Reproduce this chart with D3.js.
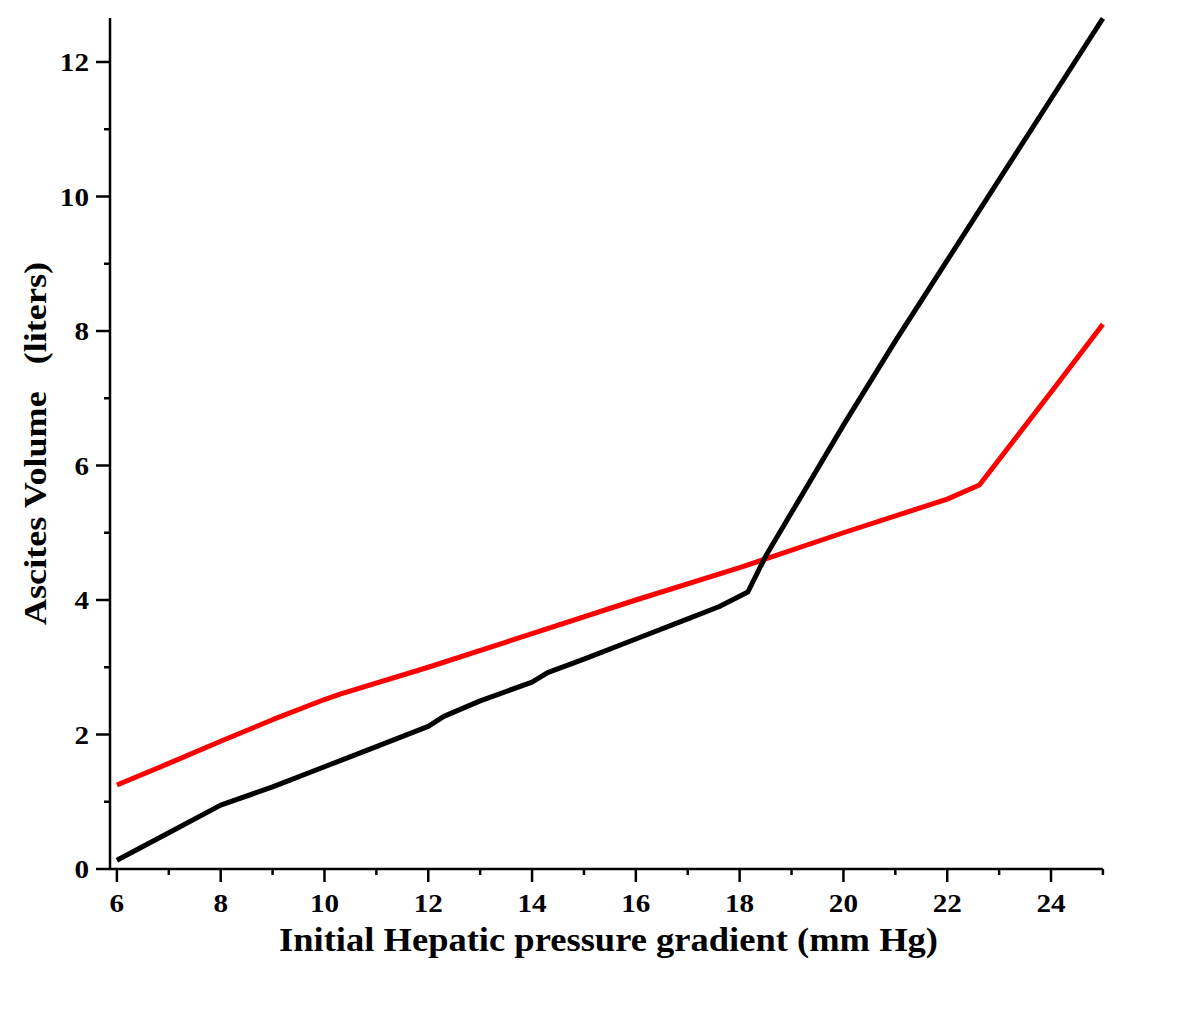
<!DOCTYPE html>
<html><head><meta charset="utf-8">
<script src="https://cdn.jsdelivr.net/npm/d3@7"></script>
<style>body{margin:0;background:#fff}svg{display:block}</style>
</head><body>
<script>
const blackX = [6, 7, 8, 9, 10, 11, 12, 12.3, 13, 14, 14.3, 15, 16, 17, 17.6, 18.16, 18.5, 19, 20, 21, 22, 23, 24, 25];
const blackY = [0.13, 0.54, 0.95, 1.22, 1.52, 1.82, 2.12, 2.27, 2.5, 2.78, 2.92, 3.12, 3.42, 3.72, 3.9, 4.12, 4.65, 5.3, 6.6, 7.85, 9.05, 10.25, 11.45, 12.65];
const redX = [6, 7, 8, 9, 10, 10.3, 12, 14, 16, 18, 20, 22, 22.62, 23, 24, 25];
const redY = [1.25, 1.57, 1.9, 2.22, 2.52, 2.6, 3.0, 3.5, 4.0, 4.48, 5.0, 5.5, 5.71, 6.09, 7.09, 8.1];
const xTicks = [6, 8, 10, 12, 14, 16, 18, 20, 22, 24];
const xMinor = [7, 9, 11, 13, 15, 17, 19, 21, 23, 25];
const yTicks = [0, 2, 4, 6, 8, 10, 12];
const yMinor = [1, 3, 5, 7, 9, 11];
const xTitle = "Initial Hepatic pressure gradient (mm Hg)";
const yTitle = "Ascites Volume\u00a0\u00a0\u00a0(liters)";

const W = 1200, H = 1018;
const svg = d3.select("body").append("svg").attr("width", W).attr("height", H);
const x = d3.scaleLinear().domain([6, 25]).range([116.9, 1102.9]);
const y = d3.scaleLinear().domain([0, 12]).range([869, 62]);
const font = "'Liberation Serif','Times New Roman',serif";
const axisX0 = 110;
const stretch = 1.12;

function widen(sel) {
  sel.each(function () {
    const len = this.getComputedTextLength();
    d3.select(this).attr("textLength", len * stretch).attr("lengthAdjust", "spacingAndGlyphs");
  });
}

// axes lines
svg.append("line").attr("x1", 96).attr("x2", x(25)).attr("y1", y(0)).attr("y2", y(0))
  .attr("stroke", "#000").attr("stroke-width", 2.5);
svg.append("line").attr("x1", axisX0).attr("x2", axisX0).attr("y1", 18).attr("y2", y(0))
  .attr("stroke", "#000").attr("stroke-width", 2.5);

// x ticks
svg.selectAll(".xt").data(xTicks).enter().append("line")
  .attr("x1", d => x(d)).attr("x2", d => x(d)).attr("y1", y(0)).attr("y2", y(0) + 13)
  .attr("stroke", "#000").attr("stroke-width", 2.5);
svg.selectAll(".xm").data(xMinor).enter().append("line")
  .attr("x1", d => x(d)).attr("x2", d => x(d)).attr("y1", y(0)).attr("y2", y(0) + 6)
  .attr("stroke", "#000").attr("stroke-width", 2.5);
svg.selectAll(".xl").data(xTicks).enter().append("text")
  .attr("x", d => x(d)).attr("y", 912).attr("text-anchor", "middle")
  .attr("font-family", font).attr("font-weight", "bold").attr("font-size", 26)
  .text(d => d).call(widen);

// y ticks
svg.selectAll(".yt").data(yTicks.filter(d => d > 0)).enter().append("line")
  .attr("x1", 96).attr("x2", axisX0).attr("y1", d => y(d)).attr("y2", d => y(d))
  .attr("stroke", "#000").attr("stroke-width", 2.5);
svg.selectAll(".ym").data(yMinor).enter().append("line")
  .attr("x1", 104).attr("x2", axisX0).attr("y1", d => y(d)).attr("y2", d => y(d))
  .attr("stroke", "#000").attr("stroke-width", 2.5);
svg.selectAll(".yl").data(yTicks).enter().append("text")
  .attr("x", 89).attr("y", d => y(d) + 9).attr("text-anchor", "end")
  .attr("font-family", font).attr("font-weight", "bold").attr("font-size", 26)
  .text(d => d).call(widen);

// titles
svg.append("text").attr("x", 608.5).attr("y", 951).attr("text-anchor", "middle")
  .attr("font-family", font).attr("font-weight", "bold").attr("font-size", 33)
  .attr("textLength", 659).attr("lengthAdjust", "spacingAndGlyphs")
  .text(xTitle);
svg.append("text").attr("transform", "translate(46,443.5) rotate(-90)").attr("text-anchor", "middle")
  .attr("font-family", font).attr("font-weight", "bold").attr("font-size", 31)
  .attr("textLength", 363).attr("lengthAdjust", "spacingAndGlyphs")
  .text(yTitle);

// lines
const line = d3.line().x(d => x(d[0])).y(d => y(d[1]));
svg.append("path").datum(redX.map((v, i) => [v, redY[i]])).attr("d", line)
  .attr("fill", "none").attr("stroke", "#ff0000").attr("stroke-width", 5).attr("stroke-linejoin", "round");
svg.append("path").datum(blackX.map((v, i) => [v, blackY[i]])).attr("d", line)
  .attr("fill", "none").attr("stroke", "#000").attr("stroke-width", 5).attr("stroke-linejoin", "round");
</script>
</body></html>
